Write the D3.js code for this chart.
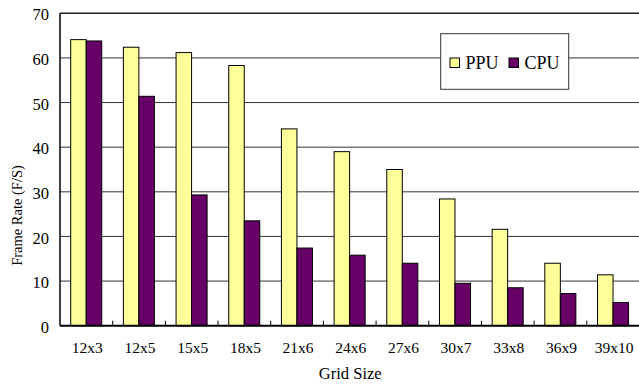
<!DOCTYPE html>
<html>
<head>
<meta charset="utf-8">
<script src="https://cdn.jsdelivr.net/npm/d3@7"></script>
<style>
  html, body { margin: 0; padding: 0; background: #fff; }
  svg { display: block; }
  text { font-family: "Liberation Serif", "Times New Roman", serif; fill: #000; }
</style>
</head>
<body>
<svg id="chart" width="639" height="385"></svg>
<script>
// Frame rate by grid size, PPU vs CPU
const categories = ["12x3", "12x5", "15x5", "18x5", "21x6", "24x6", "27x6", "30x7", "33x8", "36x9", "39x10"];
const seriesNames = ["PPU", "CPU"];
const ppuValues = [64.1, 62.4, 61.2, 58.3, 44.1, 39.0, 35.0, 28.4, 21.6, 14.0, 11.4];
const cpuValues = [63.8, 51.4, 29.3, 23.5, 17.4, 15.8, 14.0, 9.5, 8.5, 7.2, 5.2];
const yTicks = [0, 10, 20, 30, 40, 50, 60, 70];
const colors = { PPU: "#FFFF99", CPU: "#660066" };

const serifFont = "'Liberation Serif', 'Times New Roman', serif";
const rows = categories.map((c, i) => ({ cat: c, PPU: ppuValues[i], CPU: cpuValues[i] }));

const svg = d3.select("#chart");
const plotLeft = 60, plotRight = 639.5, plotTop = 13.3, plotBottom = 325.7;

const x0 = d3.scaleBand().domain(categories).range([plotLeft, plotRight]).padding(0);
const bw = x0.bandwidth();
const x1 = d3.scaleBand().domain(seriesNames).range([bw * 0.203, bw * 0.792]).padding(0);
const y = d3.scaleLinear().domain([0, 70]).range([plotBottom, plotTop]);

// horizontal gridlines
svg.append("g")
  .selectAll("line")
  .data(yTicks.filter(t => t > 0))
  .join("line")
  .attr("x1", plotLeft).attr("x2", plotRight)
  .attr("y1", d => y(d)).attr("y2", d => y(d))
  .attr("stroke", d => d === 70 ? "#222" : "#333")
  .attr("stroke-width", d => d === 70 ? 1.6 : 1);

// y tick labels
const yAxis = d3.axisLeft(y).tickValues(yTicks).tickSize(0).tickPadding(11);
const gy = svg.append("g").attr("transform", `translate(${plotLeft},0)`).call(yAxis);
gy.select(".domain").remove();
gy.selectAll("text")
  .attr("font-size", 16.5)
  .attr("font-family", serifFont)
  .attr("dy", "0.4em");

// bars
const groups = svg.append("g")
  .selectAll("g")
  .data(rows)
  .join("g")
  .attr("transform", d => `translate(${x0(d.cat)},0)`);

groups.selectAll("rect")
  .data(d => seriesNames.map(s => ({ s, v: d[s] })))
  .join("rect")
  .attr("x", d => x1(d.s))
  .attr("width", x1.bandwidth())
  .attr("y", d => y(d.v))
  .attr("height", d => y(0) - y(d.v))
  .attr("fill", d => colors[d.s])
  .attr("stroke", "#000")
  .attr("stroke-width", 1);

// y axis line
svg.append("line")
  .attr("x1", plotLeft).attr("x2", plotLeft)
  .attr("y1", plotTop).attr("y2", plotBottom)
  .attr("stroke", "#000").attr("stroke-width", 1.5);

// x axis with category boundary ticks pointing up
svg.append("line")
  .attr("x1", plotLeft).attr("x2", plotRight)
  .attr("y1", plotBottom).attr("y2", plotBottom)
  .attr("stroke", "#000").attr("stroke-width", 2);

svg.append("g")
  .selectAll("line")
  .data(categories.slice(1))
  .join("line")
  .attr("x1", d => x0(d)).attr("x2", d => x0(d))
  .attr("y1", plotBottom).attr("y2", plotBottom - 5)
  .attr("stroke", "#000").attr("stroke-width", 1);

// x tick labels
const xAxis = d3.axisBottom(x0).tickSize(0).tickPadding(0);
const gx = svg.append("g").attr("transform", `translate(0,${plotBottom})`).call(xAxis);
gx.select(".domain").remove();
gx.selectAll("text")
  .attr("font-size", 15.5)
  .attr("font-family", serifFont)
  .attr("dy", null)
  .attr("y", 27.5)
  .attr("x", 1);

// axis titles
svg.append("text")
  .attr("x", (plotLeft + plotRight) / 2 + 0.5)
  .attr("y", 379)
  .attr("text-anchor", "middle")
  .attr("font-family", serifFont)
  .attr("font-size", 16.5)
  .text("Grid Size");

svg.append("text")
  .attr("transform", "translate(22,215.5) rotate(-90)")
  .attr("text-anchor", "middle")
  .attr("font-family", serifFont)
  .attr("font-size", 14.5)
  .text("Frame Rate (F/S)");

// legend
const legend = svg.append("g");
legend.append("rect")
  .attr("x", 440.7).attr("y", 33.7)
  .attr("width", 128).attr("height", 55.6)
  .attr("fill", "#fff").attr("stroke", "#333").attr("stroke-width", 1);

const legendItems = [
  { s: "PPU", sx: 450, tx: 465.5 },
  { s: "CPU", sx: 509, tx: 524.5 }
];
legendItems.forEach(it => {
  legend.append("rect")
    .attr("x", it.sx).attr("y", 58)
    .attr("width", 9.5).attr("height", 9.5)
    .attr("fill", colors[it.s]).attr("stroke", "#000").attr("stroke-width", 1);
  legend.append("text")
    .attr("x", it.tx).attr("y", 68.5)
    .attr("font-family", serifFont)
    .attr("font-size", 18)
    .text(it.s);
});
</script>
</body>
</html>
